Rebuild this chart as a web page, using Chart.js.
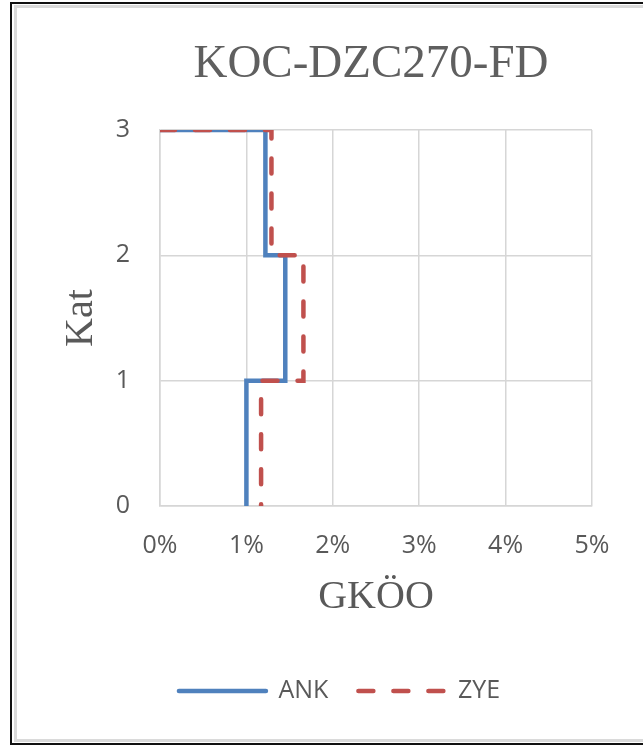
<!DOCTYPE html>
<html>
<head>
<meta charset="utf-8">
<title>KOC-DZC270-FD</title>
<script src="https://cdn.jsdelivr.net/npm/chart.js@4.4.1/dist/chart.umd.min.js"></script>
<style>
    html, body {
        margin: 0;
        padding: 0;
        background: #ffffff;
    }
    body {
        position: relative;
        width: 643px;
        height: 747px;
        overflow: hidden;
    }
    .frame {
        position: absolute;
        left: 10px;
        top: 2px;
        width: 700px;
        height: 743px;
        box-sizing: border-box;
        border: 2px solid #111111;
    }
    .frame::after {
        content: '';
        position: absolute;
        left: 2px;
        top: 1px;
        right: 0;
        bottom: 1px;
        border: 3px solid #dadada;
    }
    .chart-title {
        position: absolute;
        left: 0;
        top: 38px;
        width: 742px;
        text-align: center;
        font-family: 'Liberation Serif', 'Times New Roman', serif;
        font-size: 47px;
        line-height: 47px;
        color: #5f5f5f;
        white-space: nowrap;
    }
    #drift-chart {
        position: absolute;
        left: 0;
        top: 0;
    }
</style>
</head>
<body>
<div class="frame"></div>
<canvas id="drift-chart" width="643" height="747"></canvas>
<div class="chart-title">KOC-DZC270-FD</div>

<script>
    // kat numaralari ve kat bazinda goreli kat otelemesi orani (%)
    const stories = [1, 2, 3];
    const ankDrift = [1.00, 1.45, 1.22];
    const zyeDrift = [1.17, 1.66, 1.29];

    const seriesNames = ['ANK', 'ZYE'];
    const xTicks = [0, 1, 2, 3, 4, 5];
    const yTicks = [0, 1, 2, 3];

    const gray = '#595959';
    const gridColor = '#d6d6d6';

    // basamakli cizgi: en ust kattan baslayip her katin alt ve ust sinirinda deger sabit
    const stepPoints = (values) => {
        const topStory = stories[stories.length - 1];
        const pts = [{ x: 0, y: topStory }];
        for (let i = values.length - 1; i >= 0; i--) {
            pts.push({ x: values[i], y: stories[i] });
            pts.push({ x: values[i], y: stories[i] - 1 });
        }
        return pts;
    };

    // lejantta cizgi stili (kesikli/duz) veri setinden alinsin
    const legendLabels = (chart) => {
        const items = Chart.defaults.plugins.legend.labels.generateLabels(chart);
        items.forEach(item => {
            const ds = chart.data.datasets[item.datasetIndex];
            item.lineDash = ds.borderDash || [];
            item.lineCap = ds.borderCapStyle;
        });
        return items;
    };

    const ctx = document.getElementById('drift-chart').getContext('2d');
    new Chart(ctx, {
        type: 'scatter',
        data: {
            datasets: [{
                label: seriesNames[0],
                data: stepPoints(ankDrift),
                showLine: true,
                borderColor: '#4f81bd',
                backgroundColor: '#4f81bd',
                borderWidth: 4.5,
                borderCapStyle: 'round',
                borderJoinStyle: 'miter',
                pointRadius: 0,
                pointHoverRadius: 0,
                order: 1
            }, {
                label: seriesNames[1],
                data: stepPoints(zyeDrift),
                showLine: true,
                borderColor: '#c0504d',
                backgroundColor: '#c0504d',
                borderWidth: 4.5,
                borderDash: [15, 20],
                borderCapStyle: 'round',
                borderJoinStyle: 'miter',
                pointRadius: 0,
                pointHoverRadius: 0,
                order: 0
            }]
        },
        options: {
            responsive: false,
            animation: false,
            devicePixelRatio: 1,
            layout: {
                padding: { top: 130, left: 87, right: 51, bottom: 33.5 }
            },
            plugins: {
                title: { display: false },
                tooltip: { enabled: false },
                legend: {
                    position: 'bottom',
                    labels: {
                        usePointStyle: true,
                        pointStyle: 'line',
                        pointStyleWidth: 87,
                        padding: 30,
                        color: gray,
                        font: { family: "'Open Sans', sans-serif", size: 25 },
                        generateLabels: legendLabels,
                        sort: (a, b) => a.datasetIndex - b.datasetIndex
                    }
                }
            },
            scales: {
                x: {
                    type: 'linear',
                    min: xTicks[0],
                    max: xTicks[xTicks.length - 1],
                    afterBuildTicks: (scale) => {
                        scale.ticks = xTicks.map(v => ({ value: v }));
                    },
                    afterFit: (scale) => {
                        scale.height = 142.5;
                    },
                    grid: {
                        color: gridColor,
                        lineWidth: 1.5,
                        drawTicks: false
                    },
                    border: { color: gridColor, width: 1.5 },
                    ticks: {
                        padding: 25,
                        color: gray,
                        font: { family: "'Open Sans', sans-serif", size: 25 },
                        callback: (v) => v + '%'
                    },
                    title: {
                        display: true,
                        text: 'GKÖO',
                        color: gray,
                        font: { family: "'Liberation Serif', serif", size: 40 },
                        padding: { top: 0, bottom: 27.5 }
                    }
                },
                y: {
                    type: 'linear',
                    min: yTicks[0],
                    max: yTicks[yTicks.length - 1],
                    afterBuildTicks: (scale) => {
                        scale.ticks = yTicks.map(v => ({ value: v }));
                    },
                    afterFit: (scale) => {
                        scale.width = 73;
                    },
                    grid: {
                        color: gridColor,
                        lineWidth: 1.5,
                        drawTicks: false
                    },
                    border: { color: gridColor, width: 1.5 },
                    ticks: {
                        padding: 30,
                        color: gray,
                        font: { family: "'Open Sans', sans-serif", size: 25 }
                    },
                    title: {
                        display: true,
                        text: 'Kat',
                        color: gray,
                        font: { family: "'Liberation Serif', serif", size: 40 },
                        padding: { top: -30, bottom: 0 }
                    }
                }
            }
        }
    });
</script>
</body>
</html>
